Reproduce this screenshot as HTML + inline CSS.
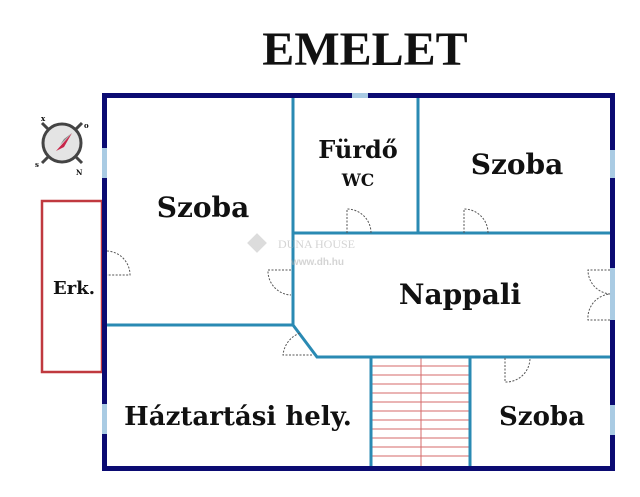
<!DOCTYPE html>
<html><head><meta charset="utf-8"><style>
html,body{margin:0;padding:0;background:#fff;}
svg{display:block}
text{font-family:"DejaVu Serif","Liberation Serif",serif;font-weight:bold;fill:#111}
</style></head><body>
<svg width="640" height="497" viewBox="0 0 640 497" xmlns="http://www.w3.org/2000/svg">
<rect width="640" height="497" fill="#fff"/>
<text x="365" y="65" font-size="48" text-anchor="middle" style="font-family:'Liberation Serif',serif">EMELET</text>

<rect x="42" y="201" width="60" height="171" fill="none" stroke="#c0393f" stroke-width="2.5"/>

<g stroke="#d46a6a" stroke-width="1">
<line x1="371" y1="366" x2="470" y2="366"/><line x1="371" y1="375" x2="470" y2="375"/>
<line x1="371" y1="384" x2="470" y2="384"/><line x1="371" y1="393" x2="470" y2="393"/>
<line x1="371" y1="402" x2="470" y2="402"/><line x1="371" y1="411" x2="470" y2="411"/>
<line x1="371" y1="420" x2="470" y2="420"/><line x1="371" y1="429" x2="470" y2="429"/>
<line x1="371" y1="438" x2="470" y2="438"/><line x1="371" y1="447" x2="470" y2="447"/>
<line x1="371" y1="456" x2="470" y2="456"/>
<line x1="421" y1="357" x2="421" y2="468"/>
</g>

<g stroke="#2a8ab3" stroke-width="3" fill="none">
<polyline points="293,96 293,325 317,357 612,357"/>
<line x1="104" y1="325" x2="293" y2="325"/>
<line x1="418" y1="96" x2="418" y2="233"/>
<line x1="293" y1="233" x2="612" y2="233"/>
<line x1="371" y1="357" x2="371" y2="468"/>
<line x1="470" y1="357" x2="470" y2="468"/>
</g>

<rect x="104.5" y="95.5" width="508" height="373" fill="none" stroke="#0b0b72" stroke-width="5"/>
<g fill="#a9cbe3">
<rect x="352" y="93" width="16" height="5"/>
<rect x="102" y="148" width="5" height="30"/>
<rect x="102" y="404" width="5" height="30"/>
<rect x="610" y="150" width="5" height="28"/>
<rect x="610" y="405" width="5" height="30"/>
<rect x="610" y="268" width="5" height="52"/>
</g>

<g fill="none" stroke="#555" stroke-width="1" stroke-dasharray="2,1.5">
<path d="M347 233 V209 A24 24 0 0 1 371 233"/>
<path d="M464 233 V209 A24 24 0 0 1 488 233"/>
<path d="M107 251 A24 24 0 0 1 130 275 H107"/>
<path d="M291 270 H268 A24 24 0 0 0 291 295"/>
<path d="M312 355 L283 355 A26 26 0 0 1 300 333"/>
<path d="M505 358 V382 A24 24 0 0 0 530 358"/>
<path d="M610 270 H588 A24 24 0 0 0 610 294 A24 24 0 0 0 588 320 H610"/>
</g>

<g transform="translate(62,143)">
<line x1="-20" y1="-20" x2="20" y2="20" stroke="#444" stroke-width="3"/>
<line x1="20" y1="-20" x2="-20" y2="20" stroke="#444" stroke-width="3"/>
<circle r="19" fill="#e4e4e4" stroke="#444" stroke-width="3"/>
<polygon points="-6,8 10,-10 2,4" fill="#c8264a"/>
<polygon points="2,-4 10,-10 -2,2" fill="#888"/>
<text x="-21" y="-22" font-size="7" fill="#555">x</text>
<text x="22" y="-15" font-size="7" fill="#555">o</text>
<text x="-27" y="24" font-size="7" fill="#555">s</text>
<text x="14" y="32" font-size="7" fill="#555">N</text>
</g>

<g opacity="0.5">
<rect x="250" y="236" width="14" height="14" transform="rotate(45 257 243)" fill="#bbb"/>
<text x="278" y="248" font-size="12" style="font-weight:normal;fill:#aaa;font-family:'Liberation Serif',serif">DUNA HOUSE</text>
<text x="291" y="265" font-size="10" style="fill:#aaa;font-family:'Liberation Sans',sans-serif">www.dh.hu</text>
</g>

<text x="203" y="217" font-size="28" text-anchor="middle">Szoba</text>
<text x="358" y="158" font-size="24" text-anchor="middle">Fürdő</text>
<text x="358" y="186" font-size="17" text-anchor="middle">WC</text>
<text x="517" y="174" font-size="28" text-anchor="middle">Szoba</text>
<text x="460" y="304" font-size="28" text-anchor="middle">Nappali</text>
<text x="238" y="425" font-size="26" text-anchor="middle">Háztartási hely.</text>
<text x="542" y="425" font-size="26" text-anchor="middle">Szoba</text>
<text x="74" y="294" font-size="18" text-anchor="middle">Erk.</text>
</svg>
</body></html>
